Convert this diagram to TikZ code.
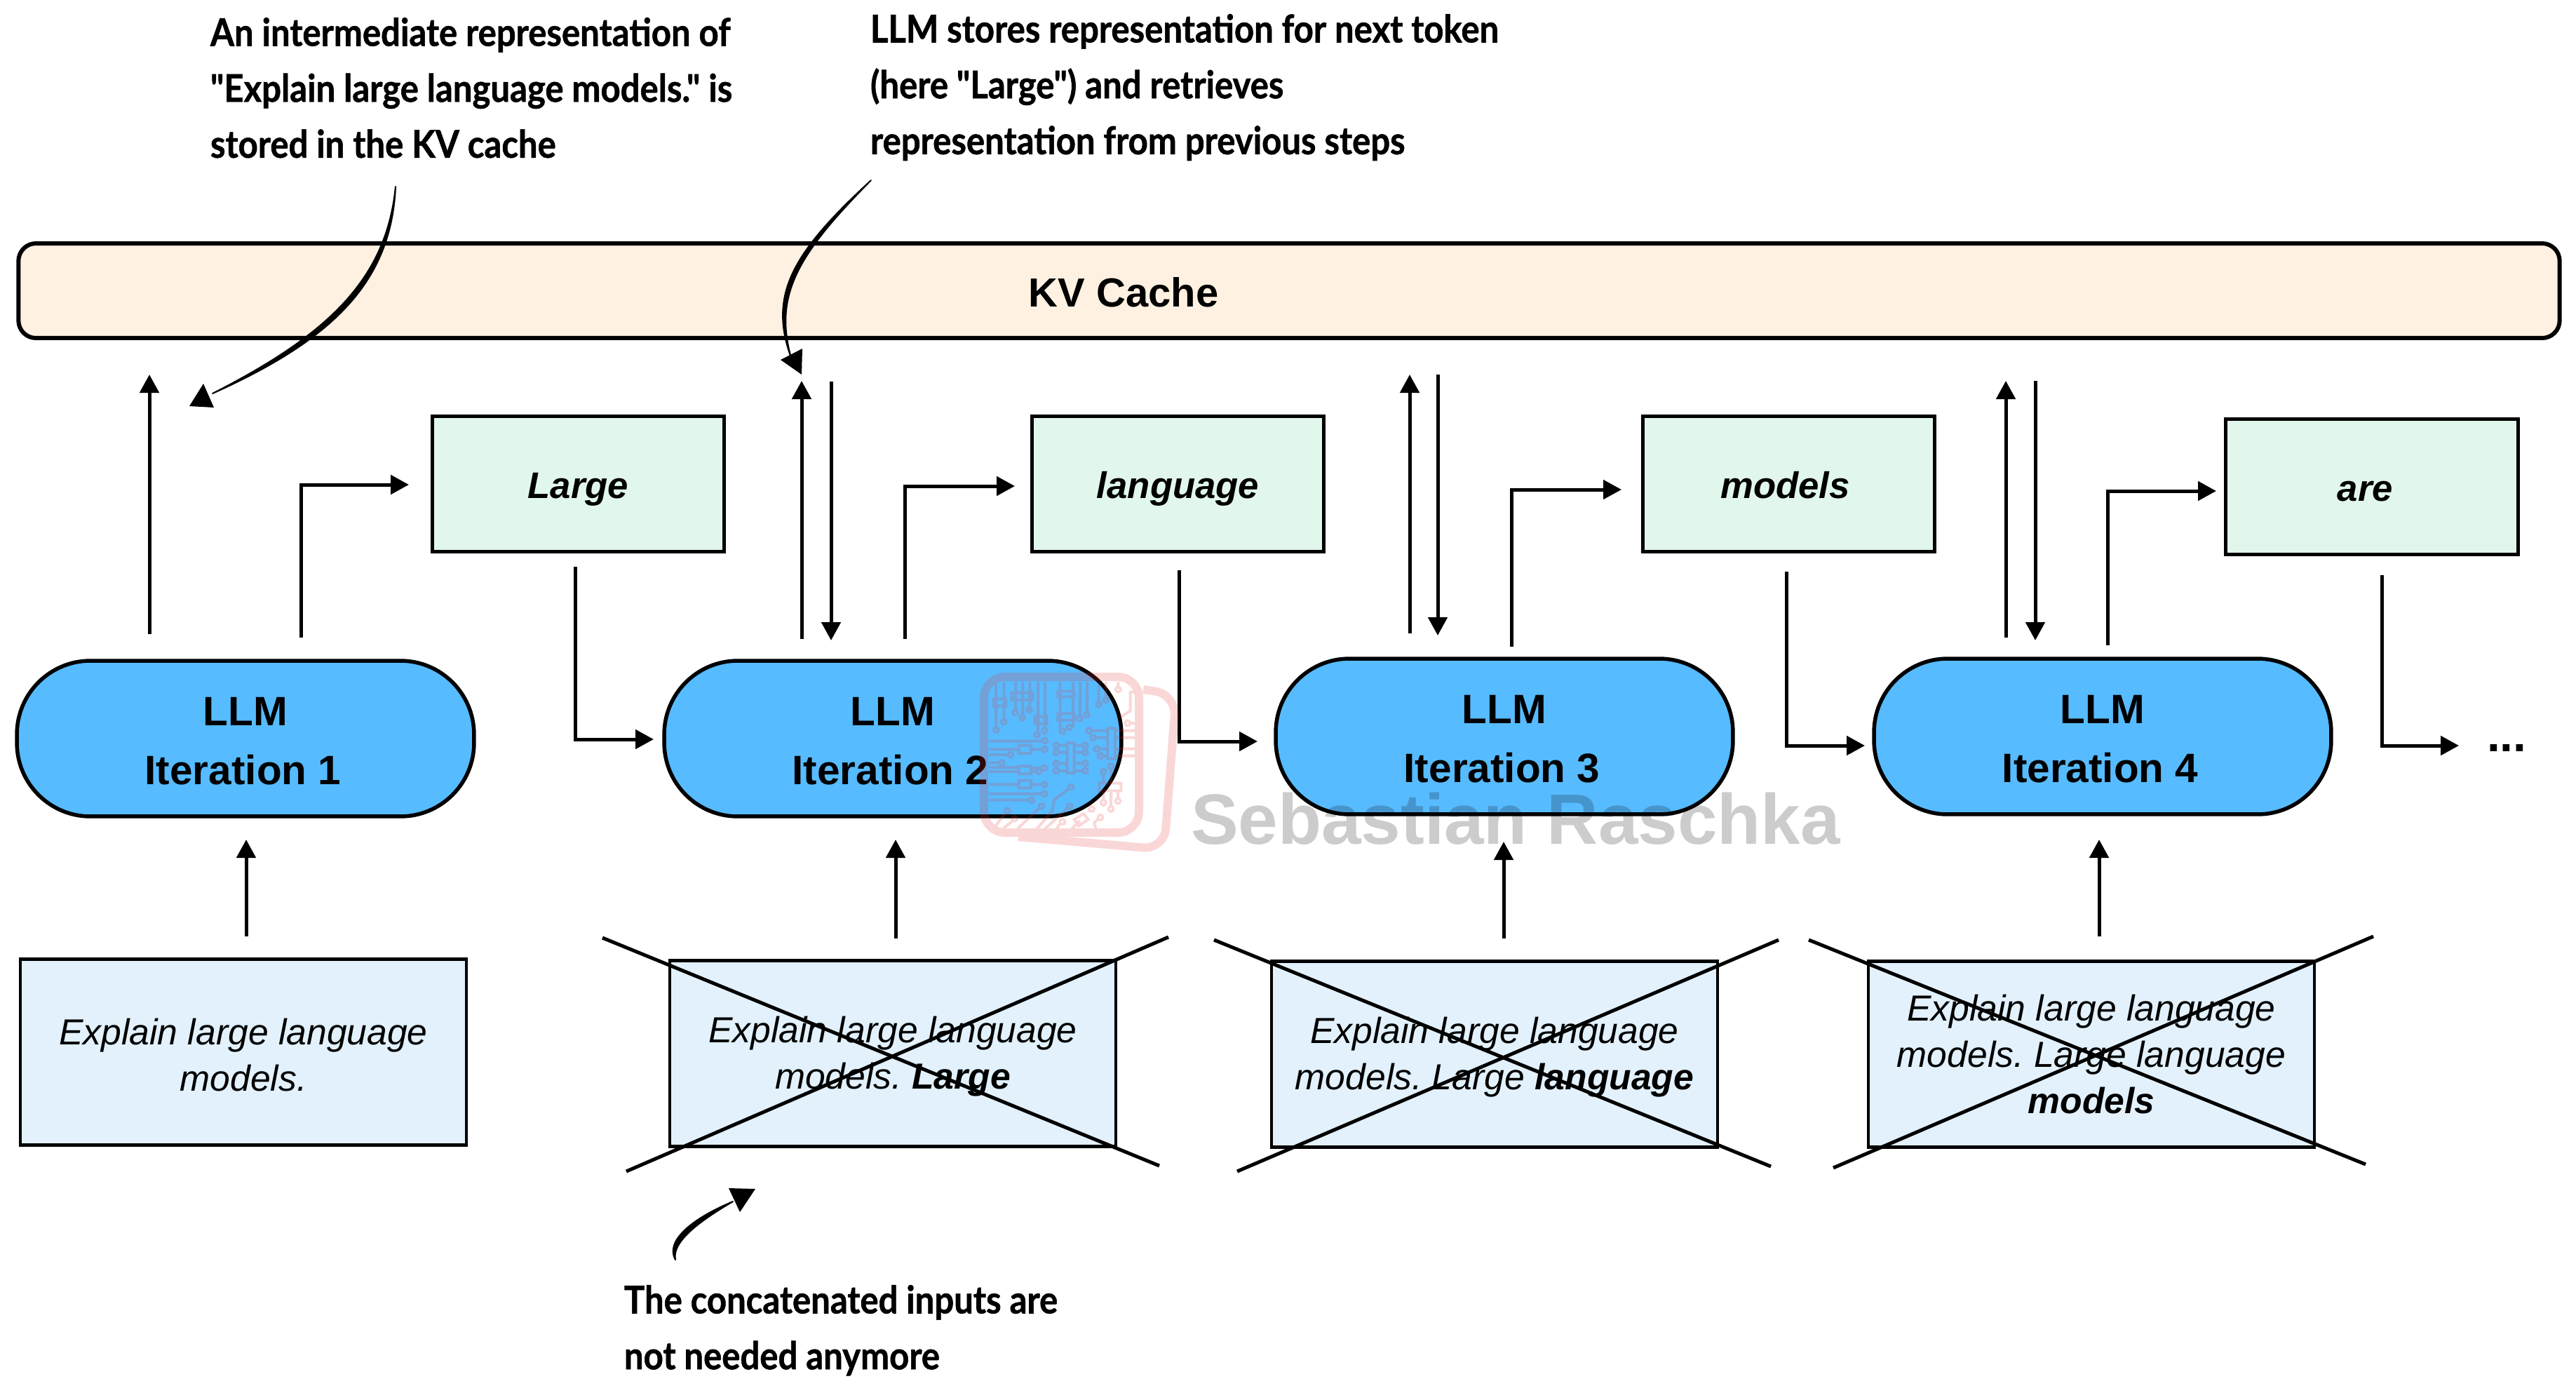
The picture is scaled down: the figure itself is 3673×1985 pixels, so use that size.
\documentclass[tikz,border=0pt]{standalone}
\usepackage{fontspec}
\setmainfont{Liberation Sans}
\newfontfamily\notefont[FakeStretch=0.90,UprightFont={* Bold},FakeBold=1]{Lato}
\usetikzlibrary{arrows.meta,calc}
\definecolor{cacheC}{HTML}{FFF1E2}
\definecolor{outC}{HTML}{E2F7EC}
\definecolor{inC}{HTML}{E2F1FB}
\definecolor{llmC}{HTML}{57BBFF}
\definecolor{logoC}{HTML}{E63737}
\frenchspacing
\newcommand{\llmstrut}{\rule{0pt}{.94cm}}
\newcommand{\instrut}{\rule{0pt}{.92cm}}
\tikzset{
  x=0.02cm,y=-0.02cm,
  every node/.style={inner sep=0pt,outer sep=0pt},
  cachebox/.style={draw=black,fill=cacheC,line width=.12cm,rounded corners=.5cm,minimum width=72.48cm,minimum height=2.7cm},
  outbox/.style={draw=black,fill=outC,line width=.1cm,minimum width=8.34cm,minimum height=3.88cm,text height=1cm,text depth=.2cm,font=\fontsize{30}{36}\selectfont\bfseries\itshape},
  llmbox/.style={draw=black,fill=llmC,line width=.11cm,rounded corners=2.1cm,minimum width=13.04cm,minimum height=4.44cm,align=center,font=\fontsize{33.3}{47.6}\selectfont\bfseries},
  inbox/.style={draw=black,fill=inC,line width=.09cm,minimum width=12.72cm,minimum height=5.3cm,align=center,font=\fontsize{29.4}{37.6}\selectfont\itshape},
  flow/.style={draw=black,line width=.1cm,-{Triangle[length=.52cm,width=.54cm]}},
  crossline/.style={draw=black,line width=.1cm},
  note/.style={anchor=north west,align=left,font=\fontsize{31}{45.35}\notefont},
  callout/.style={fill=black,draw=black,line width=.04cm,line join=round},
  calloutHead/.style={fill=black},
  logoline/.style={draw=logoC,line width=.08cm},
  logodot/.style={draw=logoC,line width=.07cm},
}
\begin{document}
\begin{tikzpicture}
\useasboundingbox (0,0) rectangle (3673,1985);
% cache
\node[cachebox] (cache) at (1838,414.5) {};
\node[font=\fontsize{33}{40}\selectfont\bfseries] (cachetext) at (1602,417) {KV Cache};
% outputs
\node[outbox] (out1) at (824.5,690) {Large};
\node[outbox] (out2) at (1679.5,690) {language};
\node[outbox] (out3) at (2550.5,690) {models\kern.2cm};
\node[outbox] (out4) at (3381.5,694) {are\kern.36cm};
% llm
\node[llmbox] (llm1) at (350,1053) {\llmstrut LLM\\Iteration 1\kern.14cm};
\node[llmbox] (llm2) at (1273,1053) {\llmstrut LLM\\Iteration 2\kern.14cm};
\node[llmbox] (llm3) at (2145,1050) {\llmstrut LLM\\Iteration 3\kern.14cm};
\node[llmbox] (llm4) at (2998,1050) {\llmstrut LLM\\Iteration 4\kern.14cm};
% inputs
\node[inbox] (in1) at (347,1500) {\instrut Explain large language\\models.};
\node[inbox] (in2) at (1273,1502) {\instrut Explain large language\\models. {\bfseries Large}};
\node[inbox] (in3) at (2131,1503) {\instrut Explain large language\\models. Large {\bfseries language}};
\node[inbox] (in4) at (2982,1503) {Explain large language\\models. Large language\\{\bfseries models}};
% crosses
\coordinate (x2a) at (859,1337); \coordinate (x2b) at (1653,1662);
\coordinate (x2c) at (1666,1336); \coordinate (x2d) at (893,1670);
\coordinate (x3a) at (1731,1340); \coordinate (x3b) at (2525,1663);
\coordinate (x3c) at (2536,1340); \coordinate (x3d) at (1764,1670);
\coordinate (x4a) at (2579,1340); \coordinate (x4b) at (3373,1660);
\coordinate (x4c) at (3384,1335); \coordinate (x4d) at (2614,1665);
\draw[crossline] (x2a) -- (x2b); \draw[crossline] (x2c) -- (x2d);
\draw[crossline] (x3a) -- (x3b); \draw[crossline] (x3c) -- (x3d);
\draw[crossline] (x4a) -- (x4b); \draw[crossline] (x4c) -- (x4d);
% input arrows
\coordinate (i1s) at (351,1335); \coordinate (i1e) at (351,1197);
\coordinate (i2s) at (1277,1338); \coordinate (i2e) at (1277,1197);
\coordinate (i3s) at (2144,1338); \coordinate (i3e) at (2144,1200);
\coordinate (i4s) at (2993,1335); \coordinate (i4e) at (2993,1197);
\draw[flow] (i1s) -- (i1e); \draw[flow] (i2s) -- (i2e);
\draw[flow] (i3s) -- (i3e); \draw[flow] (i4s) -- (i4e);
% store / retrieve arrows
\coordinate (u1s) at (213,904); \coordinate (u1e) at (213,534);
\coordinate (u2s) at (1143,911); \coordinate (u2e) at (1143,543);
\coordinate (d2s) at (1185,544); \coordinate (d2e) at (1185,913);
\coordinate (u3s) at (2010,903); \coordinate (u3e) at (2010,534);
\coordinate (d3s) at (2050,534); \coordinate (d3e) at (2050,906);
\coordinate (u4s) at (2860,909); \coordinate (u4e) at (2860,543);
\coordinate (d4s) at (2902,543); \coordinate (d4e) at (2902,913);
\draw[flow] (u1s) -- (u1e);
\draw[flow] (u2s) -- (u2e); \draw[flow] (d2s) -- (d2e);
\draw[flow] (u3s) -- (u3e); \draw[flow] (d3s) -- (d3e);
\draw[flow] (u4s) -- (u4e); \draw[flow] (d4s) -- (d4e);
% llm to output
\coordinate (a1s) at (429,909); \coordinate (a1e) at (583,691);
\coordinate (a2s) at (1290,911); \coordinate (a2e) at (1447,693);
\coordinate (a3s) at (2155,922); \coordinate (a3e) at (2312,698);
\coordinate (a4s) at (3005,920); \coordinate (a4e) at (3160,700);
\draw[flow] (a1s) |- (a1e); \draw[flow] (a2s) |- (a2e);
\draw[flow] (a3s) |- (a3e); \draw[flow] (a4s) |- (a4e);
% output to next llm
\coordinate (b1s) at (820,808); \coordinate (b1e) at (932,1054);
\coordinate (b2s) at (1681,813); \coordinate (b2e) at (1793,1057);
\coordinate (b3s) at (2547,815); \coordinate (b3e) at (2659,1063);
\coordinate (b4s) at (3396,820); \coordinate (b4e) at (3506,1063);
\draw[flow] (b1s) |- (b1e); \draw[flow] (b2s) |- (b2e);
\draw[flow] (b3s) |- (b3e); \draw[flow] (b4s) |- (b4e);
\node[font=\fontsize{38.5}{40}\selectfont\bfseries,anchor=base west] (dots) at (3546,1071) {...};
% notes
\node[note] (note1) at (300,25) {An intermediate representation of\\"Explain large language models." is\\stored in the KV cache};
\node[note] (note2) at (1241,20) {LLM stores representation for next token\\(here "Large") and retrieves\\representation from previous steps};
\node[note] (note3) at (890,1832) {The concatenated inputs are\\not needed anymore};
% callout curves
\coordinate (c1s) at (564,266); \coordinate (c1e) at (303,561);
\path[callout] (c1s) .. controls (558,402) and (475,484) .. (c1e)
   .. controls (468,477) and (551,398) .. (c1s) -- cycle;
\fill[calloutHead] (290,547) -- (270,579) -- (305,581) -- cycle;
\coordinate (c2s) at (1242,257); \coordinate (c2e) at (1128,510);
\path[callout] (c2s) .. controls (1130,360) and (1095,420) .. (c2e)
   .. controls (1103,420) and (1138,362) .. (c2s) -- cycle;
\fill[calloutHead] (1143,534) -- (1113,513) -- (1144,497) -- cycle;
\coordinate (c3s) at (963,1796); \coordinate (c3e) at (1045,1713);
\path[callout] (c3s) .. controls (948,1770) and (985,1738) .. (c3e)
   .. controls (992,1744) and (958,1772) .. (c3s) -- cycle;
\fill[calloutHead] (1039,1694) -- (1077,1695) -- (1055,1728) -- cycle;
% watermark
\node[font=\fontsize{57.8}{60}\selectfont\bfseries,anchor=base west,text=black,opacity=.2] (wm) at (1698,1203) {Sebastian Raschka};
\begin{scope}[transparency group,opacity=.2]
\draw[logoC,line width=.24cm,rounded corners=.6cm] (1403,965) rectangle (1624,1187);
\draw[logoC,line width=.24cm,rounded corners=.6cm] (1630,983) -- (1677,990) -- (1660,1211) -- (1452,1193);
\begin{scope}[shift={(1380,940)},x=0.006667cm,y=-0.006667cm]
\foreach \x/\y in {120/300,155/265,205/225,235/250,265/215,300/320,330/300,395/305,450/290,480/250,510/235,560/190,590/172,643/128}
  {\draw[logoline] (\x,97) -- (\x,\y);}
\foreach \x/\y in {122/302,153/267,202/227,232/250,263/215,296/323,328/305,405/307,434/291,478/253,508/237,560/192,590/174,643/129,
  330/348,328/385,183/408,145/442,328/465,303/480,328/535,328/575,273/602,683/273,
  518/305,535/335,551/383,567/413,580/480,612/457,580/613,612/640,642/606,
  170/647,200/681,315/628,441/546,436/628,405/695,530/640,567/676,
  378/368,378/398,378/445,378/477,502/368,502/398,502/445,502/477}
  {\draw[logodot] (\x,\y) circle (11);}
\foreach \a/\b/\c/\d in {110/170/163/200,187/143/277/173,288/245/338/275,385/137/455/160,385/232/455/260,218/368/270/402,218/457/270/490,218/518/270/550,425/358/455/487,598/295/630/425,562/530/655/562}
  {\draw[logoline] (\a,\b) rectangle (\c,\d);}
\foreach \a/\b/\c/\d in {90/350/320/350,90/385/218/385,270/385/318/385,90/408/172/408,90/442/134/442,90/462/218/462,90/480/218/480,270/465/318/465,270/480/292/480,90/535/218/535,270/535/318/535,90/575/318/575,90/602/262/602,
  391/368/425/368,391/398/425/398,391/445/425/445,391/477/425/477,455/368/490/368,455/398/490/398,455/445/490/445,455/477/490/477,
  530/305/598/305,546/335/598/335,562/383/598/383,578/413/598/413,630/305/715/305,630/335/715/335,630/383/715/383,630/413/715/413,694/273/715/273,
  580/491/580/530,612/468/612/530,580/562/580/602,612/562/612/629,642/562/642/595,
  110/725/162/655,150/725/192/690,212/725/307/635,330/725/428/635,380/725/397/700,445/725/480/690,515/650/523/645}
  {\draw[logoline] (\a,\b) -- (\c,\d);}
\draw[logoline] (715,140) -- (695,140) -- (695,220) -- (650,250);
\draw[logoline] (295,725) -- (360,650) -- (370,600) -- (432,553);
\draw[logoline] (548,725) -- (540,700) -- (559,682);
\draw[logoline] (455,685) -- (495,660) -- (515,685) -- (475,712) -- cycle;
\end{scope}
\end{scope}
\end{tikzpicture}
\end{document}
